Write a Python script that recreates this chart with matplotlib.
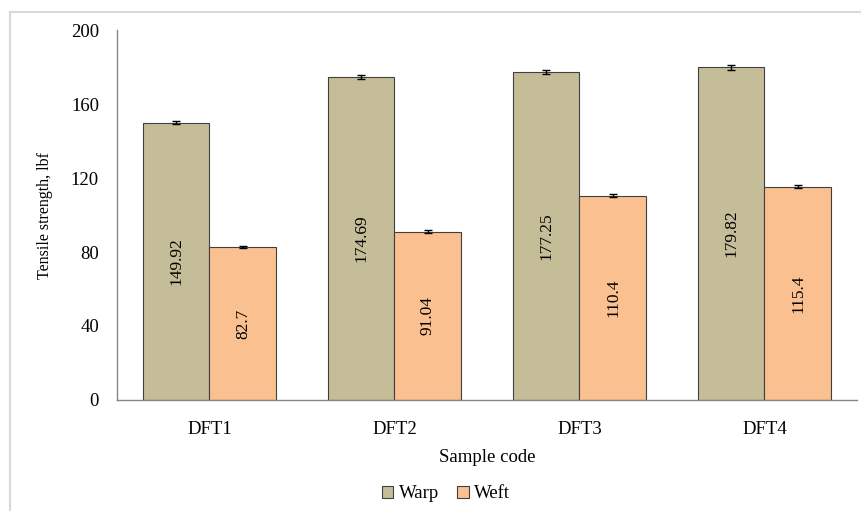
import matplotlib
matplotlib.use("Agg")
import matplotlib.pyplot as plt
import numpy as np
from matplotlib.patches import Rectangle

categories = ["DFT1", "DFT2", "DFT3", "DFT4"]
warp = [149.92, 174.69, 177.25, 179.82]
weft = [82.7, 91.04, 110.4, 115.4]
warp_err = [1.0, 1.2, 1.2, 1.2]
weft_err = [0.6, 0.8, 0.8, 0.8]
warp_labels = ["149.92", "174.69", "177.25", "179.82"]
weft_labels = ["82.7", "91.04", "110.4", "115.4"]
yticks = [0, 40, 80, 120, 160, 200]

plt.rcParams['font.family'] = ['Liberation Serif', 'DejaVu Serif']

fig = plt.figure(figsize=(8.62, 5.11), dpi=100)
fig.patches.append(Rectangle((10/862, -0.05), 1.0, 1 - 12/511 + 0.05, transform=fig.transFigure,
                             fill=False, edgecolor="#d9d9d9", linewidth=1.5))
ax = fig.add_axes([117/862, 1 - 400/511, (857-117)/862, 370/511])

x = np.arange(len(categories))
w = 0.362
col_warp = "#C4BD97"
col_weft = "#FAC090"
b1 = ax.bar(x - w/2, warp, w, color=col_warp, edgecolor="#404040", linewidth=0.8, label="Warp",
            yerr=warp_err, capsize=3, error_kw=dict(elinewidth=1.0, capthick=1.0, ecolor="black"))
b2 = ax.bar(x + w/2, weft, w, color=col_weft, edgecolor="#404040", linewidth=0.8, label="Weft",
            yerr=weft_err, capsize=3, error_kw=dict(elinewidth=1.0, capthick=1.0, ecolor="black"))

for i in range(len(categories)):
    ax.text(x[i] - w/2, warp[i] * 0.5, warp_labels[i], rotation=90, ha="center", va="center", fontsize=12.5)
    ax.text(x[i] + w/2, weft[i] * 0.5, weft_labels[i], rotation=90, ha="center", va="center", fontsize=12.5)

ax.set_xlim(-0.5, len(categories) - 0.5)
ax.set_ylim(0, 200)
ax.set_yticks(yticks)
ax.set_xticks(x)
ax.set_xticklabels(categories, fontsize=13.5)
ax.tick_params(axis="both", length=0, labelsize=13.5)
ax.tick_params(axis="y", pad=13)
ax.tick_params(axis="x", pad=15)
for s in ["top", "right"]:
    ax.spines[s].set_visible(False)
for s in ["left", "bottom"]:
    ax.spines[s].set_color("#868686")
    ax.spines[s].set_linewidth(1.0)

ax.set_ylabel("Tensile strength, lbf", fontsize=11.5, labelpad=13)
ax.set_xlabel("Sample code", fontsize=13.5, labelpad=8)

fig.legend(handles=[b1, b2], labels=["Warp", "Weft"], loc="center", bbox_to_anchor=(446/862, 1 - 494/511),
           ncol=2, frameon=False, fontsize=13.5, handlelength=0.6, handleheight=0.6, handletextpad=0.3,
           columnspacing=1.0)

fig.savefig("out.png", dpi=100)
